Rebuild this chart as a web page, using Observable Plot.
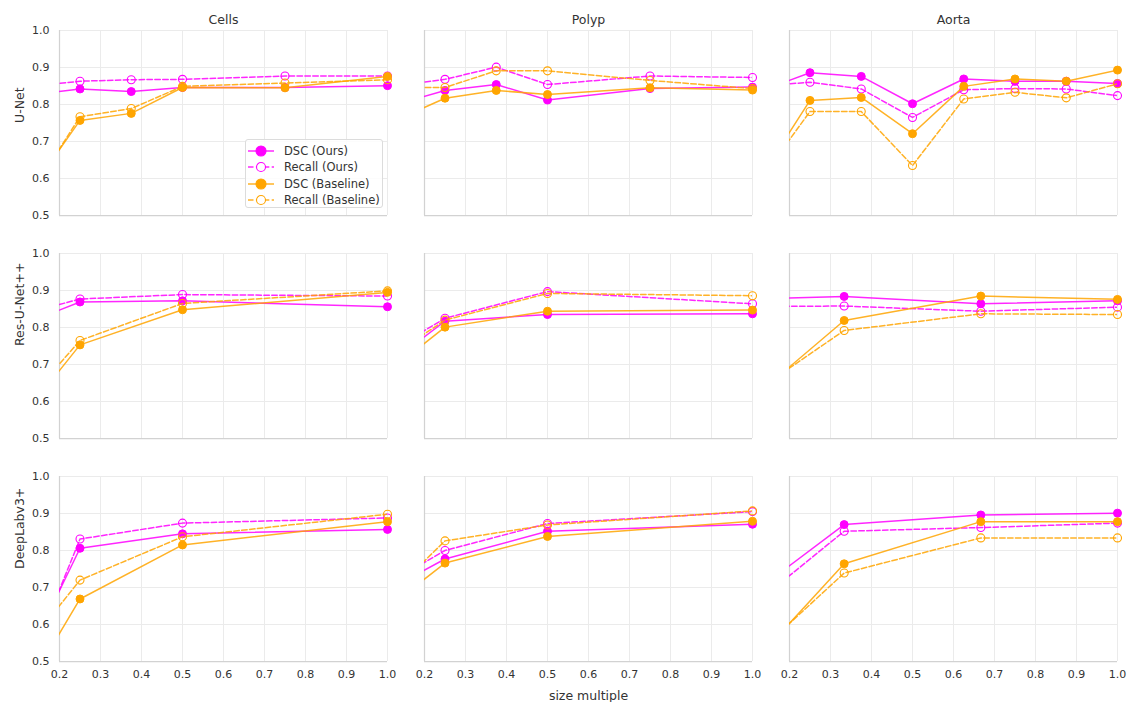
<!DOCTYPE html>
<html><head><meta charset="utf-8">
<script src="https://cdn.jsdelivr.net/npm/d3@7"></script>
<script src="https://cdn.jsdelivr.net/npm/@observablehq/plot@0.6"></script>
<style>
body{margin:0;background:#fff;font-family:"DejaVu Sans",sans-serif}
#wrap{position:relative;width:1127px;height:702px}
#legend{position:absolute;left:245px;top:139px;width:138px;height:69px;border:1px solid #dcdcdc;border-radius:3px;background:rgba(255,255,255,0.85);box-sizing:border-box;font-size:11.5px;color:#333}
#legend .it{position:absolute;left:1px;height:16px;display:flex;align-items:center}
#legend .it span{margin-left:9px}
</style></head>
<body><div id="wrap"><div id="chart"></div><div id="legend"></div></div>
<script>
const datasets = ["Cells", "Polyp", "Aorta"];
const models = ["U-Net", "Res-U-Net++", "DeepLabv3+"];
const seriesNames = ["DSC (Ours)", "Recall (Ours)", "DSC (Baseline)", "Recall (Baseline)"];
const seriesColors = ["#ff00ff", "#ff00ff", "#ffa500", "#ffa500"];
const seriesDashed = [false, true, false, true];
const xTicks = [0.2, 0.3, 0.4, 0.5, 0.6, 0.7, 0.8, 0.9, 1.0];
const yTicks = [0.5, 0.6, 0.7, 0.8, 0.9, 1.0];

// size multiples used per panel (first value lies left of the visible axis)
const sizesCP = [0.125, 0.25, 0.375, 0.5, 0.75, 1.0];
const sizes8 = [0.125, 0.25, 0.375, 0.5, 0.625, 0.75, 0.875, 1.0];
const sizes4 = [0.125, 0.25, 0.5, 1.0];
const sizes3 = [1/6, 1/3, 2/3, 1.0];

// values: [DSC ours, Recall ours, DSC baseline, Recall baseline]
const unetCells = [
  [0.825, 0.842, 0.835, 0.846, 0.846, 0.851],
  [0.848, 0.863, 0.867, 0.868, 0.877, 0.877],
  [0.560, 0.757, 0.776, 0.846, 0.845, 0.876],
  [0.550, 0.767, 0.789, 0.849, 0.858, 0.867]];
const unetPolyp = [
  [0.798, 0.838, 0.854, 0.812, 0.843, 0.847],
  [0.850, 0.868, 0.901, 0.854, 0.877, 0.873],
  [0.755, 0.817, 0.838, 0.827, 0.845, 0.839],
  [0.846, 0.846, 0.891, 0.891, 0.865, 0.843]];
const unetAorta = [
  [0.834, 0.886, 0.876, 0.802, 0.869, 0.863, 0.863, 0.857],
  [0.850, 0.860, 0.842, 0.765, 0.840, 0.843, 0.842, 0.824],
  [0.596, 0.811, 0.819, 0.721, 0.849, 0.869, 0.863, 0.893],
  [0.591, 0.781, 0.781, 0.635, 0.815, 0.833, 0.818, 0.856]];
const resCells = [
  [0.814, 0.869, 0.872, 0.856],
  [0.840, 0.877, 0.889, 0.885],
  [0.580, 0.753, 0.848, 0.895],
  [0.607, 0.765, 0.865, 0.899]];
const resPolyp = [
  [0.712, 0.817, 0.835, 0.837],
  [0.742, 0.825, 0.897, 0.864],
  [0.691, 0.801, 0.844, 0.847],
  [0.727, 0.820, 0.892, 0.886]];
const resAorta = [
  [0.879, 0.884, 0.864, 0.872],
  [0.857, 0.858, 0.844, 0.855],
  [0.662, 0.819, 0.885, 0.876],
  [0.665, 0.792, 0.837, 0.835]];
const dlCells = [
  [0.520, 0.806, 0.845, 0.857],
  [0.490, 0.831, 0.874, 0.888],
  [0.436, 0.669, 0.815, 0.878],
  [0.547, 0.720, 0.837, 0.898]];
const dlPolyp = [
  [0.702, 0.777, 0.852, 0.871],
  [0.720, 0.800, 0.873, 0.905],
  [0.658, 0.766, 0.838, 0.879],
  [0.691, 0.826, 0.869, 0.907]];
const dlAorta = [
  [0.731, 0.870, 0.896, 0.901],
  [0.702, 0.852, 0.862, 0.874],
  [0.563, 0.764, 0.878, 0.878],
  [0.569, 0.739, 0.834, 0.834]];

const rows = [];
function addPanel(model, dataset, xs, vals) {
  seriesNames.forEach((s, i) => xs.forEach((x, j) =>
    rows.push({model, dataset, series: s, x, y: vals[i][j]})));
}
addPanel("U-Net", "Cells", sizesCP, unetCells);
addPanel("U-Net", "Polyp", sizesCP, unetPolyp);
addPanel("U-Net", "Aorta", sizes8, unetAorta);
addPanel("Res-U-Net++", "Cells", sizes4, resCells);
addPanel("Res-U-Net++", "Polyp", sizes4, resPolyp);
addPanel("Res-U-Net++", "Aorta", sizes3, resAorta);
addPanel("DeepLabv3+", "Cells", sizes4, dlCells);
addPanel("DeepLabv3+", "Polyp", sizes4, dlPolyp);
addPanel("DeepLabv3+", "Aorta", sizes3, dlAorta);

const common = {x: "x", y: "y", fx: "dataset", fy: "model"};
const seriesMarks = seriesNames.flatMap((s, i) => {
  const d = rows.filter(r => r.series === s);
  return [
    Plot.line(d, {...common, stroke: seriesColors[i], strokeWidth: 1.5, strokeOpacity: 0.85,
      strokeDasharray: seriesDashed[i] ? "5.5,2.4" : null, clip: true}),
    Plot.dot(d.filter(r => r.x >= 0.2), {...common, r: 4,
      fill: seriesDashed[i] ? "none" : seriesColors[i],
      stroke: seriesColors[i], strokeWidth: seriesDashed[i] ? 1.1 : 1})
  ];
});

const chart = Plot.plot({
  width: 1127, height: 702,
  marginLeft: 58, marginRight: 10, marginTop: 29.3, marginBottom: 41,
  style: {fontFamily: "DejaVu Sans", fontSize: "11px", color: "#333", background: "white"},
  fx: {domain: datasets, paddingInner: 0.1026, paddingOuter: 0, label: null},
  fy: {domain: models, paddingInner: 0.171, paddingOuter: 0, axis: null, label: null},
  x: {domain: [0.2, 1.0]},
  y: {domain: [0.5, 1.0]},
  marks: [
    Plot.gridX(xTicks, {stroke: "#ebebeb", strokeOpacity: 1}),
    Plot.gridY(yTicks, {stroke: "#ebebeb", strokeOpacity: 1}),
    Plot.ruleX([0.2], {stroke: "#d2d2d2", strokeWidth: 1.25}),
    Plot.ruleY([0.5], {stroke: "#d2d2d2", strokeWidth: 1.25}),
    Plot.axisY(yTicks, {tickSize: 0, tickPadding: 10, tickFormat: d => d.toFixed(1), label: null, fill: "#333"}),
    Plot.axisX(xTicks, {tickSize: 0, tickPadding: 9, tickFormat: d => d.toFixed(1), label: null, fill: "#333"}),
    Plot.axisX([], {tickSize: 0, label: "size multiple", labelAnchor: "center", labelArrow: "none", fontSize: 12.5, fill: "#333"}),
    Plot.axisFx({anchor: "top", tickSize: 0, tickPadding: 7, label: null, fontSize: 12.5, fill: "#333"}),
    Plot.text(models, {fy: d => d, fx: () => "Cells", text: d => d, frameAnchor: "left", dx: -40,
      rotate: -90, fontSize: 12.5, fill: "#333"}),
    ...seriesMarks
  ]
});
document.getElementById("chart").appendChild(chart);

// legend
const legend = document.getElementById("legend");
seriesNames.forEach((s, i) => {
  const it = document.createElement("div");
  it.className = "it";
  it.style.top = (3 + i * 16.3) + "px";
  const c = seriesColors[i];
  it.innerHTML = `<svg width="28" height="14"><line x1="1" x2="27" y1="7" y2="7" stroke="${c}" stroke-opacity="0.85" stroke-width="1.5" ${seriesDashed[i] ? 'stroke-dasharray="5.5,2.4"' : ""}/><circle cx="14" cy="7" r="${seriesDashed[i] ? 4.5 : 5}" fill="${seriesDashed[i] ? "white" : c}" stroke="${c}" stroke-width="1.1"/></svg><span>${s}</span>`;
  legend.appendChild(it);
});
</script></body></html>
